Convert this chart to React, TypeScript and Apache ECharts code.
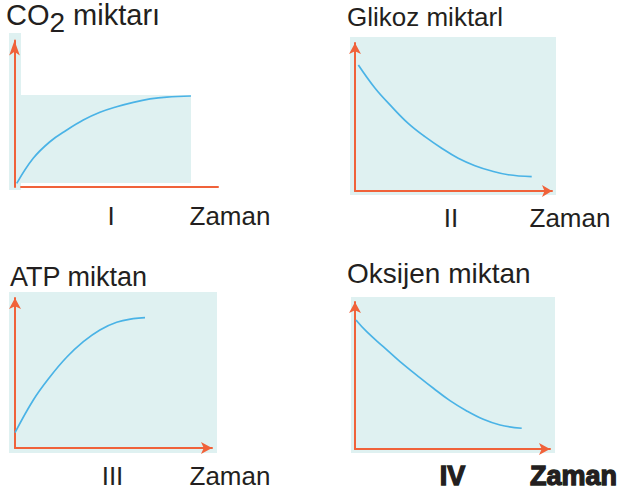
import React, { useEffect, useRef } from "react";
import * as echarts from "echarts";

// Panel I: CO2 amount over time
const co2Time = [0.11, 0.92, 1.74, 2.57, 3.38, 4.2, 5.02, 5.84, 6.66, 7.48, 8.67];
const co2Values = [0.25, 1.96, 3.09, 3.89, 4.57, 5.1, 5.48, 5.78, 6.01, 6.14, 6.21];
// Panel II: glucose amount over time
const glucoseTime = [0.17, 1.02, 1.86, 2.7, 3.55, 4.4, 5.24, 6.09, 6.94, 7.78, 8.97];
const glucoseValues = [8.51, 6.94, 5.7, 4.57, 3.67, 2.89, 2.21, 1.71, 1.35, 1.1, 0.97];
// Panel III: ATP amount over time
const atpTime = [0, 0.93, 1.78, 2.62, 3.47, 4.31, 5.16, 6.0, 6.6];
const atpValues = [1.02, 3.2, 4.75, 6.05, 7.09, 7.87, 8.38, 8.62, 8.69];
// Panel IV: oxygen amount over time
const oxygenTime = [0.05, 0.6, 1.45, 2.31, 3.16, 4.02, 4.87, 5.73, 6.58, 7.44, 8.55];
const oxygenValues = [8.78, 7.98, 6.96, 5.94, 5.03, 4.13, 3.29, 2.59, 2.02, 1.63, 1.41];

const panelTitles = ["CO2 miktarı", "Glikoz miktarl", "ATP miktan", "Oksijen miktan"];
const panelNumbers = ["I", "II", "III", "IV"];
const xAxisName = "Zaman";

const BG = "#dff1f1";
const AXIS = "#f0623a";
const CURVE = "#4ab3e6";
const TEXT = "#231f20";
const FONT = "'Liberation Sans', Arial, sans-serif";

const pairs = (xs: number[], ys: number[]) => xs.map((x, i) => [x, ys[i]]);

export default function App() {
  const ref = useRef<HTMLDivElement>(null);
  useEffect(() => {
    if (!ref.current) return;
    const chart = echarts.init(ref.current, undefined, { renderer: "svg" });

    const grids = [
      { left: 14.5, top: 40.5, width: 203.5, height: 146.5 }, // I (curve + y axis)
      { left: 21, top: 40.5, width: 197, height: 146.5 }, // I (x axis line)
      { left: 355, top: 43, width: 197, height: 148 }, // II
      { left: 15, top: 298, width: 197, height: 150 }, // III
      { left: 355, top: 302, width: 195, height: 147 }, // IV
    ];

    const axisBase = (gi: number, show: boolean, arrowSize: number[] | null) => ({
      type: "value",
      gridIndex: gi,
      min: 0,
      max: 10,
      axisLine: {
        show,
        onZero: false,
        symbol: arrowSize ? ["none", "arrow"] : ["none", "none"],
        symbolSize: arrowSize || [8, 10],
        lineStyle: { color: AXIS, width: 2 },
      },
      axisTick: { show: false },
      axisLabel: { show: false },
      splitLine: { show: false },
    });

    const xAxes = [
      axisBase(0, false, null),
      axisBase(1, true, null),
      axisBase(2, true, [9, 10]),
      axisBase(3, true, [9, 11]),
      axisBase(4, true, [9, 11]),
    ];
    const yAxes = [
      axisBase(0, true, [8, 15]),
      axisBase(1, false, null),
      axisBase(2, true, [9, 11]),
      axisBase(3, true, [9, 11]),
      axisBase(4, true, [9, 11]),
    ];

    const lineSeries = (idx: number, data: number[][]) => ({
      type: "line",
      xAxisIndex: idx,
      yAxisIndex: idx,
      data,
      smooth: 0.4,
      showSymbol: false,
      clip: false,
      lineStyle: { color: CURVE, width: 1.7 },
      silent: true,
    });

    const bgRect = (x: number, y: number, w: number, h: number) => ({
      type: "rect",
      z: -10,
      shape: { x, y, width: w, height: h },
      style: { fill: BG },
      silent: true,
    });

    const label = (
      text: string,
      x: number,
      y: number,
      size: number,
      align: string,
      bold = false
    ) => ({
      type: "text",
      z: 10,
      x,
      y,
      style: {
        text,
        fontFamily: FONT,
        fontSize: size,
        fontWeight: bold ? "bold" : "normal",
        fill: TEXT,
        stroke: bold ? TEXT : undefined,
        lineWidth: bold ? 1.3 : 0,
        align,
        verticalAlign: "middle",
      },
    });

    const option = {
      animation: false,
      grid: grids.map((g) => ({ ...g, containLabel: false })),
      xAxis: xAxes,
      yAxis: yAxes,
      series: [
        lineSeries(0, pairs(co2Time, co2Values)),
        lineSeries(2, pairs(glucoseTime, glucoseValues)),
        lineSeries(3, pairs(atpTime, atpValues)),
        lineSeries(4, pairs(oxygenTime, oxygenValues)),
      ],
      graphic: {
        elements: [
          bgRect(21, 95, 170, 88),
          bgRect(9, 33, 12, 157),
          bgRect(350, 37, 206, 158),
          bgRect(9, 292, 208, 161),
          bgRect(351, 297, 204, 156),
          {
            type: "text",
            z: 10,
            x: 6,
            y: 0,
            style: {
              text: "{a|CO}{b|2}{a| miktarı}",
              verticalAlign: "top",
              align: "left",
              fill: TEXT,
              rich: {
                a: {
                  fontFamily: FONT,
                  fontSize: 29,
                  lineHeight: 32,
                  verticalAlign: "top",
                  fill: TEXT,
                },
                b: {
                  fontFamily: FONT,
                  fontSize: 28,
                  lineHeight: 32,
                  verticalAlign: "top",
                  padding: [8, 0, 0, 0],
                  fill: TEXT,
                },
              },
            },
          },
          label(panelTitles[1], 347, 17, 26, "left"),
          label(panelTitles[2], 10, 276.5, 27, "left"),
          label(panelTitles[3], 347, 273.5, 28, "left"),
          label(panelNumbers[0], 111, 215.5, 26, "center"),
          label(xAxisName, 189.5, 215.5, 26, "left"),
          label(panelNumbers[1], 451, 217.5, 26, "center"),
          label(xAxisName, 529.5, 217.5, 26, "left"),
          label(panelNumbers[2], 112.5, 476, 26, "center"),
          label(xAxisName, 189.5, 476, 26, "left"),
          label(panelNumbers[3], 452.5, 476, 27, "center", true),
          label(xAxisName, 530, 476, 27, "left", true),
        ],
      },
    };

    chart.setOption(option as any);
    return () => chart.dispose();
  }, []);

  return (
    <div
      ref={ref}
      style={{ position: "fixed", left: 0, top: 0, width: 617, height: 497, background: "#fff" }}
    />
  );
}
